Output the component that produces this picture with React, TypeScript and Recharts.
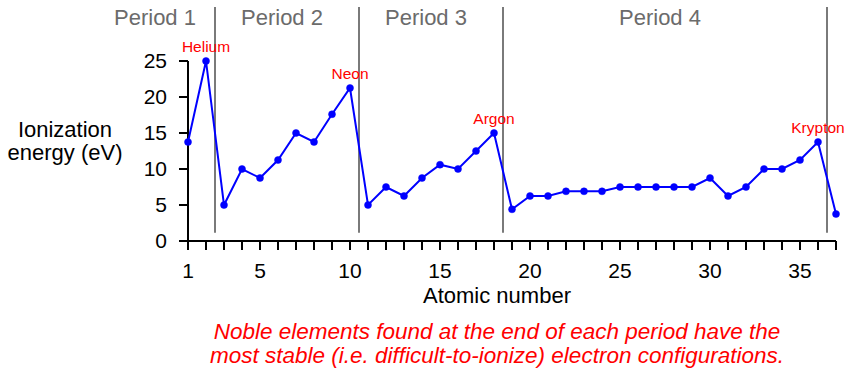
import { LineChart, Line, XAxis, YAxis, ReferenceLine, LabelList } from "recharts";

const FONT = '"Liberation Sans", Arial, Helvetica, sans-serif';

// atomic numbers 1..37 (H .. Rb)
const atomicNumbers = [
  1, 2, 3, 4, 5, 6, 7, 8, 9, 10, 11, 12, 13, 14, 15, 16, 17, 18, 19, 20, 21, 22, 23, 24, 25, 26, 27,
  28, 29, 30, 31, 32, 33, 34, 35, 36, 37,
];

// first ionization energy, eV
const ionizationEnergy = [
  13.75, 25, 5, 10, 8.75, 11.25, 15, 13.75, 17.6, 21.25, 5, 7.5, 6.25, 8.75, 10.6, 10, 12.5, 15, 4.4,
  6.25, 6.25, 6.9, 6.9, 6.9, 7.5, 7.5, 7.5, 7.5, 7.5, 8.75, 6.25, 7.5, 10, 10, 11.25, 13.75, 3.75,
];

const nobleGases: Record<number, string> = { 2: "Helium", 10: "Neon", 18: "Argon", 36: "Krypton" };

const periodNames = ["Period 1", "Period 2", "Period 3", "Period 4"];
const periodEnds = [2.5, 10.5, 18.5, 36.5];

const xTicks = atomicNumbers;
const xTickLabels = [1, 5, 10, 15, 20, 25, 30, 35];
const yTicks = [0, 5, 10, 15, 20, 25];

const data = atomicNumbers.map((z, i) => ({
  z,
  energy: ionizationEnergy[i],
  name: nobleGases[z] ?? "",
}));

// horizontal offset of each period title from its closing divider
const periodLabelDx = [-60, -77, -77, -167];

function periodLabel(text: string, dx: number) {
  return (props: any) => (
    <text
      x={props.viewBox.x + dx}
      y={25}
      textAnchor="middle"
      fontSize={22}
      fontFamily={FONT}
      fill="#6b6b6b"
    >
      {text}
    </text>
  );
}

export default function App() {
  return (
    <div style={{ position: "fixed", left: 0, top: 0, width: 852, height: 374, background: "#fff", fontFamily: FONT }}>
      <LineChart width={852} height={374} data={data} margin={{ top: 7, right: 16, left: 0, bottom: 93 }}>
        <XAxis
          dataKey="z"
          type="number"
          domain={[1, 37]}
          ticks={xTicks}
          interval={0}
          tickFormatter={(v) => (xTickLabels.includes(v) ? String(v) : "")}
          height={40}
          tickSize={9}
          tickMargin={13}
          stroke="#000"
          strokeWidth={2}
          tick={{ fill: "#000", fontSize: 21, fontFamily: FONT }}
        />
        <YAxis
          type="number"
          domain={[0, 32.5]}
          ticks={yTicks}
          width={188}
          axisLine={false}
          tickSize={9}
          tickMargin={12}
          stroke="#000"
          strokeWidth={2}
          tick={{ fill: "#000", fontSize: 21, fontFamily: FONT }}
        />
        <ReferenceLine
          segment={[
            { x: 1, y: 0 },
            { x: 1, y: 25 },
          ]}
          stroke="#000"
          strokeWidth={2}
          ifOverflow="visible"
        />
        {periodEnds.map((xe, i) => (
          <ReferenceLine
            key={xe}
            segment={[
              { x: xe, y: 1.15 },
              { x: xe, y: 32.5 },
            ]}
            stroke="#7a7a7a"
            strokeWidth={2}
            ifOverflow="visible"
            label={periodLabel(periodNames[i], periodLabelDx[i])}
          />
        ))}
        <Line
          type="linear"
          dataKey="energy"
          stroke="#0000ff"
          strokeWidth={2}
          dot={{ r: 3.5, fill: "#0000ff", stroke: "#0000ff", strokeWidth: 0.5 }}
          activeDot={false}
          isAnimationActive={false}
        >
          <LabelList dataKey="name" position="top" offset={9} fill="#ff0000" fontSize={15.5} fontFamily={FONT} />
        </Line>
      </LineChart>

      <div
        style={{
          position: "absolute",
          left: 65,
          top: 118,
          transform: "translateX(-50%)",
          textAlign: "center",
          fontSize: 22,
          lineHeight: "23px",
          whiteSpace: "nowrap",
          color: "#000",
        }}
      >
        Ionization
        <br />
        energy (eV)
      </div>

      <div
        style={{
          position: "absolute",
          left: 497,
          top: 284,
          transform: "translateX(-50%)",
          fontSize: 22,
          lineHeight: "23px",
          whiteSpace: "nowrap",
          color: "#000",
        }}
      >
        Atomic number
      </div>

      <div
        style={{
          position: "absolute",
          left: 497,
          top: 320,
          transform: "translateX(-50%)",
          textAlign: "center",
          fontSize: 22.5,
          fontStyle: "italic",
          lineHeight: "23.5px",
          whiteSpace: "nowrap",
          color: "#ff0000",
        }}
      >
        Noble elements found at the end of each period have the
        <br />
        most stable (i.e. difficult-to-ionize) electron configurations.
      </div>
    </div>
  );
}
